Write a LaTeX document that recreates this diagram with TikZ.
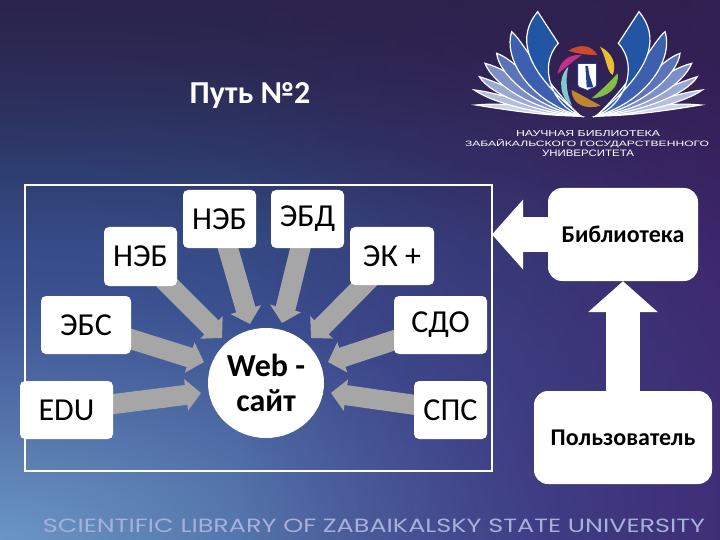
\documentclass[tikz,border=0pt]{standalone}
\usepackage{fontspec}
\setmainfont{Carlito}
\newfontfamily\widefont{Liberation Sans}
\newfontfamily\footfont{Poppins}
\usetikzlibrary{arrows.meta,shapes.geometric,fadings}
\definecolor{bgA}{HTML}{6A96C4}
\definecolor{bgB}{HTML}{4A65A0}
\definecolor{bgC}{HTML}{3A5090}
\definecolor{bgD}{HTML}{30457A}
\definecolor{bgE}{HTML}{2C2A55}
\definecolor{bgF}{HTML}{2A2148}
\definecolor{tint}{HTML}{4A1A70}
\definecolor{arrowgray}{HTML}{A6A6A6}
\definecolor{foot}{HTML}{A5B0DC}
\definecolor{fa}{RGB}{205,212,235}
\definecolor{fb}{RGB}{180,190,222}
\definecolor{fc}{RGB}{155,168,212}
\definecolor{fd}{RGB}{125,142,200}
\definecolor{fe}{RGB}{90,115,185}
\definecolor{ff}{RGB}{60,95,175}
\definecolor{fg}{RGB}{35,85,165}
\definecolor{ra}{RGB}{205,75,45}
\definecolor{rb}{RGB}{235,190,50}
\definecolor{rc}{RGB}{130,190,70}
\definecolor{rd}{RGB}{190,135,45}
\definecolor{re}{RGB}{130,200,205}
\definecolor{rf}{RGB}{190,50,140}
\definecolor{shieldblue}{RGB}{35,60,140}
\pgfdeclareradialshading{bgshade}{\pgfpointorigin}{color(0bp)=(bgA); color(3.75bp)=(bgB); color(5.625bp)=(bgC); color(8.25bp)=(bgD); color(12bp)=(bgE); color(15bp)=(bgF); color(50bp)=(bgF)}
\tikzfading[name=rightin,left color=transparent!100,right color=transparent!45]
\tikzfading[name=topin,top color=transparent!35,bottom color=transparent!100]
\pgfdeclarelayer{back}
\pgfdeclarelayer{links}
\pgfsetlayers{back,links,main}
\tikzset{
  smallbox/.style={fill=white,rounded corners=5pt,inner sep=0pt,font=\fontsize{32}{34}\selectfont,text=black},
  bigbox/.style={fill=white,rounded corners=14pt,inner sep=0pt,font=\bfseries\fontsize{24}{26}\selectfont,text=black},
  grayarrow/.style={draw=arrowgray,line width=20pt,-{Triangle[length=15pt,width=31pt]}},
  whitearrow/.style={draw=white,line width=34pt,-{Triangle[length=31pt,width=68pt]}},
  logotext/.style={text=white,inner sep=0pt,font=\widefont},
  feather/.style={line width=1.2pt,draw=white},
}
\begin{document}
\begin{tikzpicture}[x=1pt,y=-1pt]
\useasboundingbox (0,0) rectangle (720,540);
\begin{pgfonlayer}{back}
\begin{scope}
  \clip (0,0) rectangle (720,540);
  \shade[shading=bgshade] (0,540) ellipse (2400pt and 1120pt);
  \fill[tint,path fading=rightin] (240,0) rectangle (720,540);
  \fill[bgF,path fading=topin] (0,0) rectangle (720,240);
\end{scope}
\draw[white,line width=1.5pt] (25,185) rectangle (492,471);
\end{pgfonlayer}
% title
\node[text=white,font=\bfseries\fontsize{32}{34}\selectfont,inner sep=0pt] (title) at (250,96) {Путь №2};
% boxes
\node[smallbox,minimum width=73pt,minimum height=58pt] (neb2) at (219.5,219) {НЭБ};
\node[smallbox,minimum width=73pt,minimum height=58pt] (ebd) at (307.5,219) {ЭБД};
\node[smallbox,minimum width=73pt,minimum height=59pt] (neb1) at (140.5,256.5) {НЭБ};
\node[smallbox,minimum width=84pt,minimum height=58pt] (ek) at (392,256) {ЭК +};
\node[smallbox,minimum width=90pt,minimum height=58pt] (ebs) at (86,325) {ЭБС};
\node[smallbox,minimum width=93pt,minimum height=58pt] (sdo) at (440.5,325) {СДО};
\node[smallbox,minimum width=93pt,minimum height=58pt] (edu) at (66.5,410) {EDU};
\node[smallbox,minimum width=73pt,minimum height=58pt] (sps) at (450.5,410) {СПС};
\node[fill=white,ellipse,inner sep=0pt,minimum width=116pt,minimum height=110pt,align=center,font=\bfseries\fontsize{32}{35}\selectfont,text=black] (web) at (266,383) {Web -\\сайт};
\node[bigbox,minimum width=150pt,minimum height=93pt] (lib) at (623,234.5) {Библиотека};
\node[bigbox,minimum width=178pt,minimum height=93pt] (user) at (623,437.5) {Пользователь};
% arrow tips
\coordinate (t1) at (222,338);
\coordinate (t2) at (250,324);
\coordinate (t3) at (282,323);
\coordinate (t4) at (311,338);
\coordinate (t5) at (204,362);
\coordinate (t6) at (328,362);
\coordinate (t7) at (201,393);
\coordinate (t8) at (331,393);
\coordinate (tlib) at (492,234.5);
\begin{pgfonlayer}{links}
\draw[grayarrow] (neb1.center) -- (t1);
\draw[grayarrow] (neb2.center) -- (t2);
\draw[grayarrow] (ebd.center) -- (t3);
\draw[grayarrow] (ek.center) -- (t4);
\draw[grayarrow] (ebs.center) -- (t5);
\draw[grayarrow] (sdo.center) -- (t6);
\draw[grayarrow] (edu.center) -- (t7);
\draw[grayarrow] (sps.center) -- (t8);
\draw[whitearrow] (lib.center) -- (tlib);
\draw[whitearrow] (user.center) -- (lib.south);
\end{pgfonlayer}
% logo
\begin{scope}[shift={(440pt,-10pt)},x=.33333pt,y=-.33333pt]
  \foreach \m in {1,-1}{
  \begin{scope}[shift={(445,0)},xscale=\m,shift={(-445,0)}]
    \filldraw[feather,fill=fa] (420,318) .. controls (330,318) and (230,305) .. (108,285) .. controls (220,275) and (330,295) .. cycle;
    \filldraw[feather,fill=fb] (420,318) .. controls (300,315) and (160,280) .. (103,240) .. controls (190,250) and (300,295) .. cycle;
    \filldraw[feather,fill=fc] (420,318) .. controls (300,310) and (150,255) .. (118,200) .. controls (200,225) and (300,280) .. cycle;
    \filldraw[feather,fill=fd] (420,318) .. controls (280,300) and (160,225) .. (135,160) .. controls (215,180) and (300,260) .. cycle;
    \filldraw[feather,fill=fe] (420,318) .. controls (280,290) and (175,190) .. (170,130) .. controls (230,150) and (300,250) .. cycle;
    \filldraw[feather,fill=ff] (420,318) .. controls (260,270) and (190,140) .. (215,65) .. controls (250,95) and (300,200) .. cycle;
    \filldraw[feather,fill=fg] (420,316) .. controls (240,170) and (235,75) .. (293,5) -- (355,100) .. controls (290,170) and (340,290) .. cycle;
  \end{scope}}
  % ring
  \fill[ra] (385,122) .. controls (420,100) and (455,105) .. (472,135) .. controls (450,135) and (415,133) .. cycle;
  \fill[rb] (480,110) .. controls (520,130) and (530,165) .. (518,195) .. controls (500,185) and (500,145) .. cycle;
  \fill[rc] (533,190) .. controls (540,230) and (505,262) .. (455,265) .. controls (485,240) and (510,215) .. cycle;
  \fill[rd] (395,240) .. controls (425,255) and (450,270) .. (482,287) .. controls (440,300) and (395,285) .. cycle;
  \fill[re] (385,170) .. controls (375,215) and (380,250) .. (396,287) .. controls (360,265) and (350,205) .. cycle;
  \fill[rf] (353,192) .. controls (358,155) and (385,132) .. (425,135) .. controls (405,150) and (385,165) .. cycle;
  % shield
  \filldraw[fill=white,draw=shieldblue,line width=1pt] (413,160) -- (470,160) -- (470,225) .. controls (470,235) and (450,235) .. (442,242) .. controls (434,235) and (413,235) .. (413,225) -- cycle;
  \fill[shieldblue] (436,168) -- (444,168) -- (448,195) -- (460,232) -- (440,232) -- (438,195) -- cycle;
\end{scope}
\node[logotext] (l1) at (588,134) {\resizebox{144pt}{6pt}{НАУЧНАЯ БИБЛИОТЕКА}};
\node[logotext] (l2) at (587,143.5) {\resizebox{244pt}{7pt}{ЗАБАЙКАЛЬСКОГО ГОСУДАРСТВЕННОГО}};
\node[logotext] (l3) at (588,153.5) {\resizebox{92pt}{6.5pt}{УНИВЕРСИТЕТА}};
% footer
\node[text=foot,inner sep=0pt,font=\footfont] (footer) at (374,525.5) {\resizebox{662pt}{13.5pt}{SCIENTIFIC LIBRARY OF ZABAIKALSKY STATE UNIVERSITY}};
\end{tikzpicture}
\end{document}
